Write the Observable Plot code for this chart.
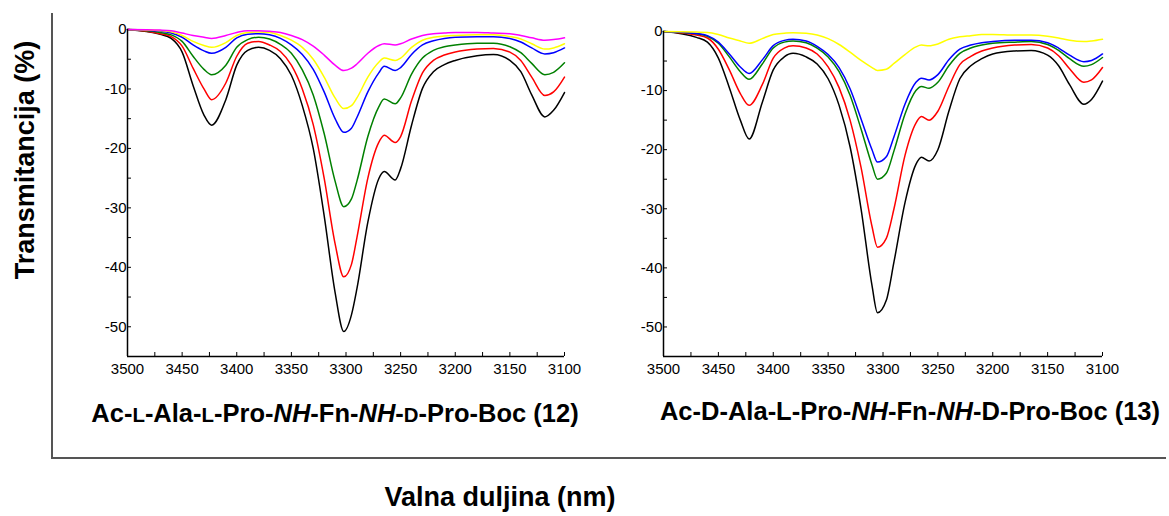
<!DOCTYPE html>
<html><head><meta charset="utf-8">
<script src="https://cdn.jsdelivr.net/npm/d3@7"></script>
<script src="https://cdn.jsdelivr.net/npm/@observablehq/plot@0.6"></script>
<style>
body{margin:0;background:#fff;width:1169px;height:516px;position:relative;overflow:hidden;font-family:Arial,"Liberation Sans",sans-serif;}
.abs{position:absolute;}
.title{font-weight:bold;font-size:25.5px;line-height:1;white-space:nowrap;color:#000;text-align:center;width:700px;}
.sc{font-size:0.8em;}
.axlab{font-weight:bold;font-size:27px;line-height:1;white-space:nowrap;color:#000;}
</style></head><body>
<div class="abs" style="left:51px;top:13px;width:2px;height:446px;background:#555"></div>
<div class="abs" style="left:51px;top:457px;width:1115px;height:2px;background:#555"></div>
<div id="left" class="abs" style="left:60px;top:0"></div>
<div id="right" class="abs" style="left:600px;top:0"></div>
<div class="abs title" style="left:-15px;top:401px">Ac-<span class="sc">L</span>-Ala-<span class="sc">L</span>-Pro-<i>NH</i>-Fn-<i>NH</i>-<span class="sc">D</span>-Pro-Boc (12)</div>
<div class="abs title" style="left:560px;top:399px">Ac-D-Ala-L-Pro-<i>NH</i>-Fn-<i>NH</i>-D-Pro-Boc (13)</div>
<div class="abs axlab" style="left:25px;top:160px;transform:translate(-50%,-50%) rotate(-90deg)">Transmitancija (%)</div>
<div class="abs axlab" style="left:500px;top:497px;transform:translate(-50%,-50%)">Valna duljina (nm)</div>
<script>
const seriesNames = ["s1", "s2", "s3", "s4", "s5", "s6"];
const seriesColors = ["#000000", "#ff0000", "#008000", "#0000ff", "#ffff00", "#ff00ff"];
const xMajor = [3500, 3450, 3400, 3350, 3300, 3250, 3200, 3150, 3100];
const xMinor = [3500, 3475, 3450, 3425, 3400, 3375, 3350, 3325, 3300, 3275, 3250, 3225, 3200, 3175, 3150, 3125, 3100];
const yMajor = [0, -10, -20, -30, -40, -50];
const yMinor = [0, -5, -10, -15, -20, -25, -30, -35, -40, -45, -50];

// Panel 12 (left)
const waveL = [3500,3470,3460,3450,3440,3430,3423,3410,3400,3390,3380,3370,3360,3350,3340,3330,3320,3310,3302,3295,3290,3280,3270,3265,3255,3250,3240,3230,3220,3210,3200,3180,3165,3150,3140,3130,3118,3110,3100];
const L_black   = [0,-0.8,-1.5,-3.8,-9.4,-14.4,-16.1,-11.8,-6,-3.5,-3.0,-3.5,-4.9,-7.7,-12.8,-20,-31.3,-44.2,-50.8,-48,-43.6,-32.4,-25.1,-23.9,-25.3,-23.4,-16.1,-9.9,-7.1,-5.9,-5.2,-4.4,-4.2,-5.2,-7.1,-11,-14.7,-13.6,-10.6];
const L_red     = [0,-0.7,-1.2,-2.8,-6.5,-10,-11.8,-9,-4.5,-2.3,-2.0,-2.6,-3.7,-6,-10,-16,-25,-36,-41.6,-39.5,-35,-25,-19,-17.8,-19,-18,-12,-7.3,-5.2,-4.3,-3.8,-3.3,-3.2,-3.8,-5.2,-8,-11.1,-10.5,-8];
const L_green   = [0,-0.5,-0.9,-2,-4.5,-6.7,-7.6,-6,-3,-1.7,-1.3,-1.6,-2.5,-4,-6.8,-11,-17.5,-25.5,-29.8,-28.5,-25.5,-18,-13,-11.7,-12.5,-11.5,-7.5,-4.8,-3.5,-2.9,-2.6,-2.3,-2.3,-2.9,-3.9,-5.7,-7.6,-7.2,-5.6];
const L_blue    = [0,-0.3,-0.6,-1.3,-2.6,-3.6,-4.0,-3,-1.4,-0.8,-0.7,-0.9,-1.5,-2.6,-4.2,-6.7,-10.5,-15,-17.3,-16.6,-14.8,-10.5,-7.3,-6.2,-6.9,-6.4,-4.2,-2.6,-1.9,-1.5,-1.3,-1.2,-1.2,-1.5,-2.1,-3.1,-4.1,-3.9,-3.1];
const L_yellow  = [0,-0.2,-0.4,-1,-2,-2.7,-3.0,-2.2,-1,-0.5,-0.4,-0.5,-1,-1.8,-3,-5,-8,-11.5,-13.3,-12.8,-11.5,-8,-5.5,-4.8,-5.2,-4.8,-3,-1.8,-1.3,-1.1,-1.0,-0.9,-0.9,-1.2,-1.6,-2.4,-3.3,-3.1,-2.4];
const L_magenta = [0,-0.1,-0.2,-0.6,-1,-1.3,-1.5,-1.0,-0.5,-0.2,-0.2,-0.3,-0.5,-1,-1.7,-2.8,-4.3,-6,-6.9,-6.5,-5.8,-4,-2.7,-2.4,-2.6,-2.4,-1.6,-1.0,-0.7,-0.6,-0.5,-0.5,-0.6,-0.7,-1.0,-1.4,-1.8,-1.7,-1.4];

// Panel 13 (right)
const waveR = [3500,3470,3460,3450,3440,3430,3422,3410,3400,3390,3382,3370,3360,3350,3340,3330,3320,3310,3305,3297,3290,3280,3270,3265,3258,3250,3240,3230,3220,3210,3200,3180,3165,3150,3140,3130,3117,3110,3100];
const R_black  = [0,-1.0,-1.8,-4.5,-9.5,-15,-18.2,-12,-6.5,-4.3,-3.7,-4.3,-5.5,-8,-12.5,-19.5,-30,-43,-47.6,-45.5,-39,-29,-22.5,-21.3,-21.9,-20,-13.5,-8,-5.8,-4.6,-3.8,-3.3,-3.2,-4,-5.8,-9,-12.3,-11.5,-8.4];
const R_red    = [0,-0.6,-1.1,-3,-6.5,-10.5,-12.5,-9,-4.5,-2.8,-2.4,-2.8,-3.8,-6,-9.5,-15,-23,-33,-36.5,-35,-30,-21,-15.5,-14.4,-15,-13.5,-9.3,-5.6,-4.2,-3.3,-2.8,-2.3,-2.2,-2.8,-4.1,-6.3,-8.6,-8.2,-6.1];
const R_green  = [0,-0.4,-0.8,-2,-4.3,-6.8,-8.1,-5.5,-2.8,-1.8,-1.6,-1.9,-2.8,-4.3,-6.8,-10.8,-16.5,-22.6,-25,-24,-20.2,-14,-10,-9.3,-9.6,-8.6,-5.8,-3.7,-2.8,-2.3,-2.0,-1.8,-1.7,-2.2,-3.2,-4.6,-5.9,-5.6,-4.4];
const R_blue   = [0,-0.35,-0.7,-1.8,-3.8,-6,-7.1,-4.8,-2.4,-1.5,-1.3,-1.6,-2.5,-3.9,-6.1,-9.7,-14.8,-20,-22.1,-21.2,-17.8,-12.3,-8.6,-7.9,-8.2,-7.3,-4.8,-3.0,-2.3,-1.9,-1.7,-1.5,-1.5,-1.9,-2.8,-4.0,-5.1,-4.9,-3.8];
const R_yellow = [0,-0.1,-0.15,-0.5,-1.1,-1.6,-2.0,-1.2,-0.5,-0.3,-0.2,-0.3,-0.6,-1.2,-2.2,-3.5,-4.9,-6.1,-6.6,-6.4,-5.4,-3.9,-2.6,-2.3,-2.4,-2.1,-1.3,-0.9,-0.7,-0.5,-0.5,-0.6,-0.6,-0.8,-1.1,-1.5,-1.7,-1.6,-1.3];

function panel(waves, arrays, names, colors, ml, mr, mt) {
  const rows = names.flatMap((n, i) => waves.map((w, j) => ({series: n, wave: w, t: arrays[i][j]})));
  return Plot.plot({
    width: 520, height: 390,
    marginLeft: ml, marginRight: mr, marginTop: mt, marginBottom: 34,
    style: {fontFamily: "Arial, 'Liberation Sans', sans-serif", fontSize: "15px", color: "#000", background: "transparent", overflow: "visible"},
    x: {domain: [3500, 3100]},
    y: {domain: [-55, 0]},
    color: {domain: names, range: colors},
    marks: [
      Plot.axisX({ticks: xMajor, tickSize: 0, tickPadding: 7, tickFormat: d => String(d), label: null}),
      Plot.axisX({ticks: xMinor, tickSize: 4, dy: -4, tickFormat: () => "", label: null}),
      Plot.axisY({ticks: yMajor, tickSize: 0, tickPadding: 1, tickFormat: d => String(d), label: null}),
      Plot.axisY({ticks: yMinor, tickSize: 4, dx: 4, tickFormat: () => "", label: null}),
      Plot.line(rows, {x: "wave", y: "t", stroke: "series", z: "series", curve: "monotone-x", strokeWidth: 1.5}),
      Plot.ruleX([3500], {strokeWidth: 1.5}),
      Plot.ruleY([-55], {strokeWidth: 1.5})
    ]
  });
}

document.getElementById("left").append(
  panel(waveL, [L_black, L_red, L_green, L_blue, L_yellow, L_magenta], seriesNames, seriesColors, 67, 16, 29)
);
document.getElementById("right").append(
  panel(waveR, [R_black, R_red, R_green, R_blue, R_yellow], seriesNames.slice(0, 5), seriesColors.slice(0, 5), 63, 18, 31)
);
</script>
</body></html>
